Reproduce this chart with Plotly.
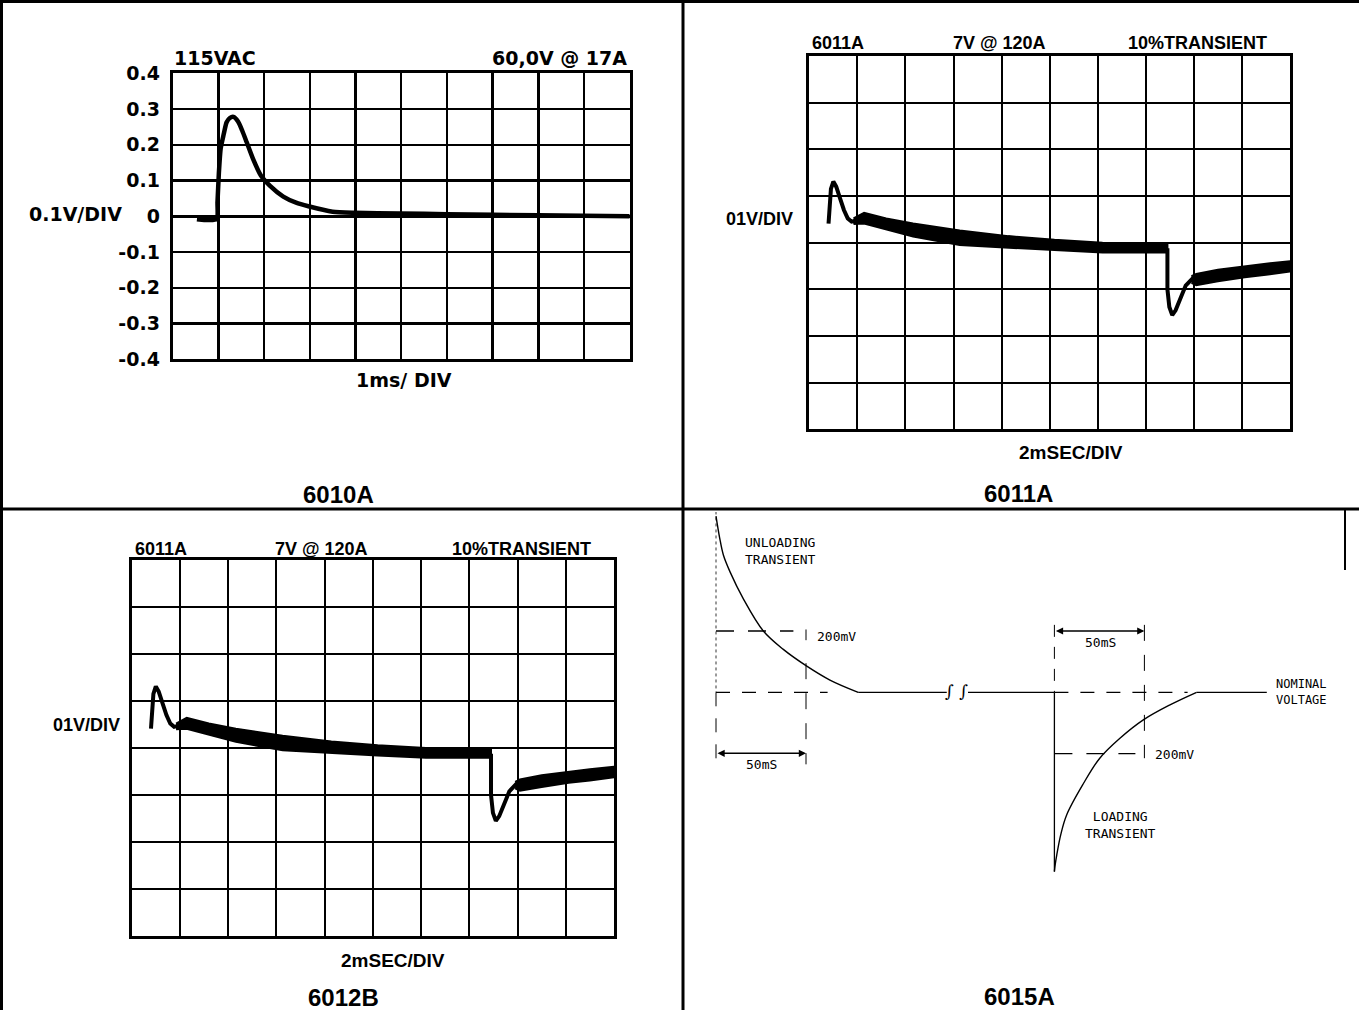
import plotly.graph_objects as go

W, H = 1359, 1010

# ---------------- data ----------------
# 6010A : time (ms, 1 ms/div) vs deviation (V)
p1_time_ms = [0.53, 0.96, 0.98, 1.01, 1.05, 1.11, 1.18, 1.25, 1.33, 1.43, 1.52, 1.62,
              1.76, 1.93, 2.13, 2.42, 2.70, 2.97, 3.50, 3.97, 4.98, 6.00, 8.00, 10.00]
p1_volts = [-0.008, -0.008, 0.04, 0.12, 0.19, 0.226, 0.263, 0.275, 0.278, 0.265, 0.24, 0.207,
            0.16, 0.114, 0.085, 0.055, 0.038, 0.028, 0.013, 0.010, 0.008, 0.006, 0.003, 0.0]
p1_ytick_vals = [-0.4, -0.3, -0.2, -0.1, 0, 0.1, 0.2, 0.3, 0.4]
p1_ytick_text = ["-0.4", "-0.3", "-0.2", "-0.1", "0", "0.1", "0.2", "0.3", "0.4"]

# 6011A / 6012B : time (div, 2 ms/div) vs level (div, 0.1 V/div)
spike_t = [0.40, 0.42, 0.45, 0.50, 0.56, 0.64, 0.72, 0.80, 0.88, 0.96]
spike_d = [4.41, 4.85, 5.15, 5.31, 5.20, 4.95, 4.70, 4.52, 4.45, 4.47]
band1_t = [0.92, 1.14, 1.60, 2.16, 3.13, 4.14, 5.10, 6.10, 7.07, 7.45]
band1_hi = [4.52, 4.64, 4.52, 4.41, 4.26, 4.14, 4.06, 4.00, 3.97, 3.97]
band1_lo = [4.40, 4.41, 4.28, 4.13, 3.95, 3.89, 3.84, 3.79, 3.79, 3.79]
dip_t = [7.45, 7.45, 7.49, 7.55, 7.62, 7.72, 7.83, 7.98]
dip_d = [3.88, 3.00, 2.62, 2.45, 2.55, 2.80, 3.08, 3.24]
band2_t = [7.95, 8.05, 8.50, 9.06, 9.50, 10.00]
band2_hi = [3.28, 3.33, 3.42, 3.50, 3.55, 3.60]
band2_lo = [3.14, 3.09, 3.17, 3.26, 3.31, 3.38]

# 6015A : schematic, time (ms) vs deviation from nominal (mV)
unload_t_ms = [0, 2.0, 4.1, 7.8, 15.2, 26.3, 37.4, 50, 63.3, 79]
unload_mv = [575, 505, 448, 393, 305, 200, 140, 87, 40, 0]
load_t_ms = [188, 188.5, 189.3, 191.5, 194.8, 203.9, 213.2, 224.4, 237.4, 252.2, 267]
load_mv = [-585, -560, -531, -465, -400, -300, -215, -150, -90, -41, 0]
nominal_solid_t = [[79, 128.2], [140, 188], [267, 306]]
nominal_dashed_t = [[0, 62], [188, 262]]
window_ms = 50
limit_mv = 200


def px(x):
    return x / W


def py(y):
    return 1 - y / H


BLACK = "black"
fig = go.Figure()

# ---------------- panel 1 traces ----------------
fig.add_trace(go.Scatter(x=p1_time_ms, y=p1_volts, mode="lines",
                         line=dict(color=BLACK, width=4.5, shape="spline", smoothing=0.6),
                         xaxis="x", yaxis="y", showlegend=False, hoverinfo="skip"))


def add_scope(xa, ya):
    for t, hi, lo in [(band1_t, band1_hi, band1_lo), (band2_t, band2_hi, band2_lo)]:
        fig.add_trace(go.Scatter(x=t + t[::-1], y=hi + lo[::-1], mode="lines", fill="toself",
                                 fillcolor=BLACK, line=dict(color=BLACK, width=2),
                                 xaxis=xa, yaxis=ya, showlegend=False, hoverinfo="skip"))
    fig.add_trace(go.Scatter(x=spike_t, y=spike_d, mode="lines",
                             line=dict(color=BLACK, width=4), xaxis=xa, yaxis=ya,
                             showlegend=False, hoverinfo="skip"))
    fig.add_trace(go.Scatter(x=dip_t, y=dip_d, mode="lines",
                             line=dict(color=BLACK, width=4), xaxis=xa, yaxis=ya,
                             showlegend=False, hoverinfo="skip"))


add_scope("x2", "y2")
add_scope("x3", "y3")


# ---------------- panel 4 traces ----------------
def p4_line(x, y, width=1.3, dash="solid", shape="linear"):
    fig.add_trace(go.Scatter(x=x, y=y, mode="lines",
                             line=dict(color=BLACK, width=width, dash=dash, shape=shape),
                             xaxis="x4", yaxis="y4", showlegend=False, hoverinfo="skip"))


p4_line(unload_t_ms, unload_mv, width=1.4, shape="spline")
p4_line(load_t_ms, load_mv, width=1.4, shape="spline")
for a, b in nominal_solid_t:
    p4_line([a, b], [0, 0], width=1.3)
for a, b in nominal_dashed_t:
    p4_line([a, b], [0, 0], width=1.3, dash="14px,12px")
# unloading reference lines
p4_line([0, 0], [unload_mv[0] + 15, 0], width=0.8, dash="3px,3px")
p4_line([0, 0], [0, -235], width=1.0, dash="14px,12px")
p4_line([window_ms, window_ms], [95, -235], width=1.0, dash="16px,14px")
p4_line([window_ms, window_ms], [205, 170], width=1.0)
p4_line([0, window_ms - 7], [limit_mv, limit_mv], width=1.3, dash="18px,14px")
# loading reference lines
t0 = load_t_ms[0]
p4_line([t0, t0], [0, load_mv[0]], width=1.3)
p4_line([t0, t0], [220, 0], width=1.0, dash="12px,10px")
p4_line([t0 + window_ms, t0 + window_ms], [220, -215], width=1.0, dash="16px,14px")
p4_line([t0, t0 + window_ms - 5], [-limit_mv, -limit_mv], width=1.3, dash="18px,14px")

arrow_common = dict(xref="x4", yref="y4", axref="x4", ayref="y4", text="", showarrow=True,
                    arrowhead=2, arrowside="end+start", arrowwidth=1.6, arrowsize=0.9,
                    arrowcolor=BLACK)

annotations = [
    dict(x=window_ms, y=-199, ax=0, ay=-199, **arrow_common),
    dict(x=t0 + window_ms, y=limit_mv, ax=t0, ay=limit_mv, **arrow_common),
]


def txt(x, y, s, size=18, family="DejaVu Sans", xanchor="center", bold=False, color=BLACK):
    annotations.append(dict(x=px(x), y=py(y), xref="paper", yref="paper", text=s,
                            showarrow=False, xanchor=xanchor, yanchor="middle",
                            font=dict(family=family, size=size, color=color,
                                      weight="bold" if bold else "normal")))


# panel 1 texts
txt(172, 58, "115VAC", size=19, xanchor="left", bold=True)
txt(629, 58, "60,0V @ 17A", size=19, xanchor="right", bold=True)
txt(27, 214, "0.1V/DIV", size=19, xanchor="left", bold=True)
txt(404, 380, "1ms/ DIV", size=19, bold=True)
txt(338, 494, "6010A", size=24, family="Liberation Sans", bold=True)

# panel 2 texts
scope_font = "Liberation Sans"
txt(810, 43, "6011A", size=18, family=scope_font, xanchor="left", bold=True)
txt(999, 43, "7V @ 120A", size=18, family=scope_font, bold=True)
txt(1197, 43, "10%TRANSIENT", size=18, family=scope_font, bold=True)
txt(795, 219, "01V/DIV", size=18, family=scope_font, xanchor="right", bold=True)
txt(1071, 453, "2mSEC/DIV", size=19, family=scope_font, bold=True)
txt(1018, 493, "6011A", size=24, family="Liberation Sans", bold=True)

# panel 3 texts
txt(133, 549, "6011A", size=18, family=scope_font, xanchor="left", bold=True)
txt(321, 549, "7V @ 120A", size=18, family=scope_font, bold=True)
txt(521, 549, "10%TRANSIENT", size=18, family=scope_font, bold=True)
txt(122, 725, "01V/DIV", size=18, family=scope_font, xanchor="right", bold=True)
txt(393, 960, "2mSEC/DIV", size=19, family=scope_font, bold=True)
txt(344, 997, "6012B", size=24, family="Liberation Sans", bold=True)

# panel 4 texts
mono = "DejaVu Sans Mono"
txt(743, 551, "UNLOADING<br>TRANSIENT", size=13, family=mono, xanchor="left")
txt(815, 636, "200mV", size=13, family=mono, xanchor="left")
txt(761, 764, "50mS", size=13, family=mono)
txt(1100, 642, "50mS", size=13, family=mono)
txt(1153, 754, "200mV", size=13, family=mono, xanchor="left")
txt(1274, 692, "NOMINAL<br>VOLTAGE", size=12, family=mono, xanchor="left")
txt(1083, 825, "LOADING<br>TRANSIENT", size=13, family=mono, xanchor="left")
txt(956, 691, "∫ ∫", size=17, family="DejaVu Serif")
txt(1020, 996, "6015A", size=24, family="Liberation Sans", bold=True)

# ---------------- axes ----------------
grid_common = dict(showgrid=True, gridcolor=BLACK, zeroline=False, showline=True, mirror=True,
                   linecolor=BLACK, ticks="", fixedrange=True, automargin=False)

layout_axes = dict(
    xaxis=dict(domain=[px(172.7), px(629.7)], range=[0, 10], dtick=1, tick0=0,
               showticklabels=False, gridwidth=2.5, linewidth=3, anchor="y", **grid_common),
    yaxis=dict(domain=[py(359.3), py(73.3)], range=[-0.4, 0.4], tickvals=p1_ytick_vals,
               ticktext=p1_ytick_text, showticklabels=True, ticklabelstandoff=6,
               tickfont=dict(family="DejaVu Sans", size=19, color=BLACK, weight="bold"),
               gridwidth=2.5, linewidth=3, anchor="x", **grid_common),
    xaxis2=dict(domain=[px(809.3), px(1290)], range=[0, 10], dtick=1, tick0=0,
                showticklabels=False, gridwidth=2, linewidth=3, anchor="y2", **grid_common),
    yaxis2=dict(domain=[py(429.3), py(56)], range=[0, 8], dtick=1, tick0=0,
                showticklabels=False, gridwidth=2, linewidth=3, anchor="x2", **grid_common),
    xaxis3=dict(domain=[px(131.7), px(614)], range=[0, 10], dtick=1, tick0=0,
                showticklabels=False, gridwidth=2, linewidth=3, anchor="y3", **grid_common),
    yaxis3=dict(domain=[py(936), py(560)], range=[0, 8], dtick=1, tick0=0,
                showticklabels=False, gridwidth=2, linewidth=3, anchor="x3", **grid_common),
    xaxis4=dict(domain=[px(690), px(1350)], range=[(690 - 716) / 1.8, (1350 - 716) / 1.8],
                visible=False, anchor="y4", fixedrange=True, automargin=False),
    yaxis4=dict(domain=[py(1000), py(512)],
                range=[(692.3 - 1000) / 0.3065, (692.3 - 512) / 0.3065],
                visible=False, anchor="x4", fixedrange=True, automargin=False),
)


# ---------------- table borders ----------------
def pline(x0, y0, x1, y1, w=3):
    return dict(type="line", xref="paper", yref="paper", x0=px(x0), y0=py(y0), x1=px(x1),
                y1=py(y1), line=dict(color=BLACK, width=w))


shapes = [
    pline(0, 1.5, W, 1.5),
    pline(1.5, 0, 1.5, H),
    pline(683, 0, 683, H),
    pline(0, 509, W, 509),
    pline(1345, 509, 1345, 570, w=2),
]

fig.update_layout(
    width=W, height=H, margin=dict(l=0, r=0, t=0, b=0, pad=0, autoexpand=False),
    paper_bgcolor="white", plot_bgcolor="white", showlegend=False,
    annotations=annotations, shapes=shapes, **layout_axes,
)

fig.write_html("out.html", config={"displayModeBar": False, "staticPlot": True},
               post_script="document.body.style.margin='0';document.body.style.overflow='hidden';")
